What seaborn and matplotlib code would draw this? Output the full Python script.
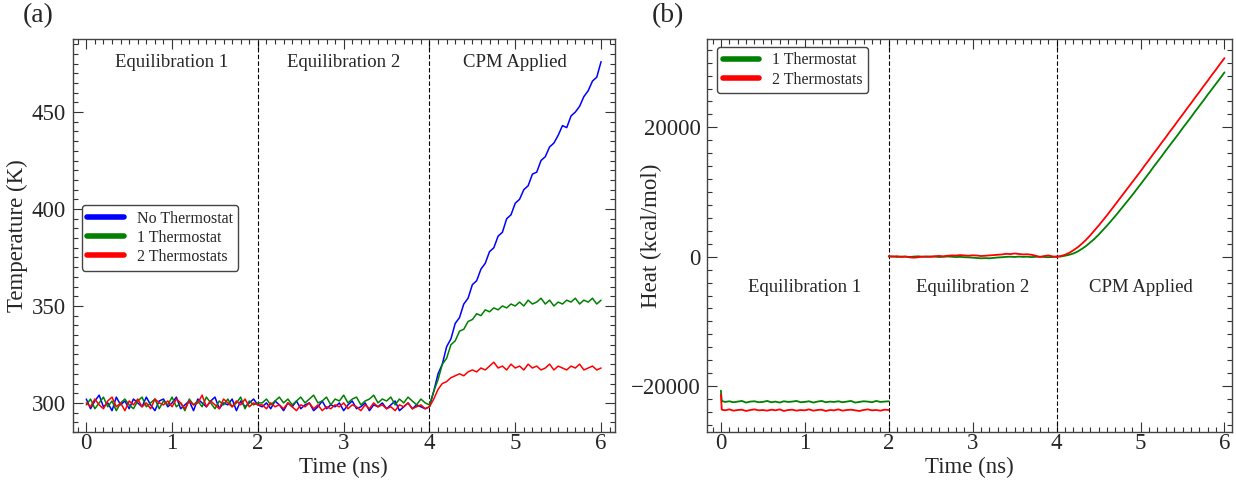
import numpy as np
import pandas as pd
import matplotlib
matplotlib.use("Agg")
import matplotlib.pyplot as plt
import seaborn as sns
from matplotlib.ticker import MultipleLocator

# ---------------- data ----------------
phase_labels = ["Equilibration 1", "Equilibration 2", "CPM Applied"]
series_a = ["No Thermostat", "1 Thermostat", "2 Thermostats"]
series_b = ["1 Thermostat", "2 Thermostats"]

# panel (a): temperature (K), sampled every 0.05 ns from 0 to 6 ns
time_a = np.linspace(0, 6, 121)
temp_none = (
    [302, 297, 301, 304, 298, 300, 296, 303, 299, 301, 297, 302, 300, 298, 303, 299, 296, 301, 302, 298,
     300, 303, 297, 299, 301, 296, 302, 300, 298, 301, 303, 297, 300, 299, 302, 296, 301, 298, 300, 302, 299]
    + [298, 300, 297, 301, 299, 296, 300, 298, 301, 297, 299, 300, 296, 298, 301, 297, 299, 298, 300, 296,
       299, 301, 297, 298, 300, 296, 299, 298, 300, 297, 299, 301, 296, 298, 300, 297, 299, 298, 297, 298]
    + [306, 315, 320, 329, 333, 341, 344, 351, 354, 361, 363, 369, 372, 378, 380, 386, 388, 395, 397, 403,
       405, 410, 412, 418, 419, 425, 427, 432, 434, 438, 443, 442, 448, 450, 453, 458, 461, 466, 468, 476]
)
temp_one = (
    [299, 302, 297, 300, 303, 298, 301, 296, 300, 302, 299, 297, 301, 303, 298, 300, 302, 297, 301, 299,
     303, 298, 300, 296, 302, 299, 301, 298, 303, 300, 297, 301, 299, 302, 298, 300, 303, 297, 301, 299, 300]
    + [300, 302, 299, 301, 303, 300, 302, 299, 301, 303, 300, 302, 304, 300, 301, 303, 299, 302, 301, 304,
       300, 302, 303, 299, 301, 302, 304, 300, 302, 301, 303, 299, 302, 300, 303, 301, 299, 302, 300, 299]
    + [306, 312, 320, 323, 330, 332, 337, 338, 342, 343, 346, 345, 348, 347, 349, 348, 350, 349, 351, 350,
       352, 350, 353, 351, 352, 354, 351, 353, 350, 352, 351, 353, 352, 354, 351, 353, 352, 354, 351, 353]
)
temp_two = (
    [300, 298, 302, 299, 297, 301, 303, 298, 300, 296, 301, 299, 302, 298, 300, 297, 302, 300, 299, 301,
     298, 302, 300, 297, 301, 299, 300, 304, 298, 301, 299, 297, 302, 300, 298, 301, 299, 302, 298, 300, 299]
    + [299, 297, 300, 298, 299, 297, 300, 298, 296, 299, 298, 300, 297, 299, 296, 298, 297, 299, 298, 300,
       297, 299, 298, 296, 299, 297, 300, 298, 299, 297, 298, 296, 299, 298, 300, 297, 298, 299, 297, 298]
    + [302, 307, 310, 311, 313, 314, 315, 314, 316, 317, 316, 318, 317, 319, 321, 318, 319, 317, 320, 318,
       319, 317, 320, 318, 319, 317, 318, 320, 317, 319, 318, 317, 319, 318, 320, 317, 318, 319, 317, 318]
)

# panel (b): heat (kcal/mol), three separate segments
time_b1 = np.concatenate([[0.0, 0.01], np.linspace(0.05, 2.0, 40)])
time_b2 = np.linspace(2.0, 4.0, 41)
time_b3 = np.linspace(4.0, 6.0, 41)

heat_one_eq1 = [-20700, -22300, -22450, -22350, -22500, -22400, -22300, -22550, -22400, -22350, -22500,
                -22450, -22300, -22500, -22400, -22550, -22350, -22450, -22400, -22300, -22500,
                -22450, -22350, -22550, -22400, -22300, -22500, -22400, -22450, -22350, -22500,
                -22400, -22300, -22550, -22450, -22350, -22400, -22500, -22300, -22450, -22400, -22350]
heat_two_eq1 = [-21300, -23650, -23750, -23600, -23800, -23700, -23650, -23850, -23700, -23600, -23750,
                -23700, -23800, -23650, -23750, -23600, -23850, -23700, -23650, -23800, -23700,
                -23750, -23600, -23800, -23700, -23650, -23850, -23700, -23750, -23600, -23800,
                -23700, -23650, -23750, -23850, -23700, -23600, -23750, -23700, -23800, -23650, -23700]
heat_one_eq2 = [0, 50, -50, 30, 0, -40, 20, 60, 0, -30, 40, 0, -50, -20, 30, 0, -60, -20, -80, -100,
                -150, -200, -250, -220, -250, -180, -120, -80, -20, 0, -40, 20, -30, 0, -60, -20, 10,
                -40, -80, -50, 0]
heat_two_eq2 = [100, 0, 80, -50, 30, -100, -150, -80, 0, 50, -30, 80, 120, 60, 150, 200, 180, 250, 200,
                150, 220, 180, 100, 150, 200, 250, 300, 350, 450, 400, 500, 420, 350, 380, 300, 150, -50,
                100, 200, 50, 0]
heat_one_cpm = [0, 30, 150, 300, 500, 800, 1200, 1650, 2200, 2750, 3400, 4100, 4800, 5550, 6300, 7100,
                7900, 8700, 9500, 10350, 11200, 12050, 12900, 13800, 14650, 15500, 16400, 17250, 18100,
                18950, 19850, 20700, 21550, 22450, 23300, 24150, 25050, 25900, 26750, 27600, 28500]
heat_two_cpm = [0, 100, 300, 600, 1000, 1450, 2000, 2600, 3300, 4050, 4800, 5600, 6400, 7250, 8100, 8950,
                9800, 10650, 11500, 12350, 13200, 14100, 14950, 15850, 16700, 17600, 18450, 19350, 20200,
                21100, 21950, 22850, 23700, 24600, 25450, 26350, 27200, 28100, 28950, 29850, 30700]

colors = {"No Thermostat": "#0000ff", "1 Thermostat": "#008000", "2 Thermostats": "#ff0000"}

# ---------------- frames ----------------
df_a = pd.concat([
    pd.DataFrame({"Time": time_a, "Value": vals, "Series": name})
    for name, vals in zip(series_a, [temp_none, temp_one, temp_two])
], ignore_index=True)

seg_frames = []
for name, segs in zip(series_b, [[heat_one_eq1, heat_one_eq2, heat_one_cpm],
                                 [heat_two_eq1, heat_two_eq2, heat_two_cpm]]):
    for k, (tt, vv) in enumerate(zip([time_b1, time_b2, time_b3], segs)):
        seg_frames.append(pd.DataFrame({"Time": tt, "Value": vv, "Series": name, "Seg": k}))
df_b = pd.concat(seg_frames, ignore_index=True)

# ---------------- style ----------------
sns.set_style("ticks")
plt.rcParams["font.family"] = ["Liberation Serif", "DejaVu Serif"]
plt.rcParams["axes.unicode_minus"] = True

fig = plt.figure(figsize=(12.36, 4.8), dpi=100)
axA = fig.add_axes([0.0587, 0.100, 0.4387, 0.818])
axB = fig.add_axes([0.5724, 0.100, 0.4244, 0.818])

sns.lineplot(data=df_a, x="Time", y="Value", hue="Series", hue_order=series_a, palette=colors,
             estimator=None, sort=False, lw=1.1, ax=axA)
sns.lineplot(data=df_b, x="Time", y="Value", hue="Series", hue_order=series_b, palette=colors,
             units="Seg", estimator=None, sort=False, lw=1.3, ax=axB)

fs_tick = 16.5
fs_label = 16.5
for ax in (axA, axB):
    ax.set_xlim(-0.16, 6.16)
    ax.xaxis.set_major_locator(MultipleLocator(1))
    ax.xaxis.set_minor_locator(MultipleLocator(0.1))
    ax.tick_params(which="both", direction="in", top=True, right=True, labelsize=fs_tick, width=0.8,
                   color="#333333")
    ax.tick_params(which="major", length=7)
    ax.tick_params(axis="y", which="major", pad=5)
    ax.tick_params(axis="x", which="major", pad=1)
    ax.tick_params(which="minor", length=3.5)
    ax.set_xlabel("Time (ns)", fontsize=fs_label, labelpad=2)
    for s in ax.spines.values():
        s.set_linewidth(1.0)
        s.set_color("#444444")
    for xv in (2, 4):
        ax.axvline(xv, color="black", lw=0.8, ls=(0, (4, 2)), zorder=1)

axB.set_xlim(-0.16, 6.09)

axA.set_ylim(285, 487.5)
axA.yaxis.set_major_locator(MultipleLocator(50))
axA.yaxis.set_minor_locator(MultipleLocator(5))
axA.set_ylabel("Temperature (K)", fontsize=fs_label)
axA.yaxis.set_label_coords(-0.082, 0.5)

axB.set_ylim(-27100, 33600)
axB.yaxis.set_major_locator(MultipleLocator(20000))
axB.yaxis.set_minor_locator(MultipleLocator(2000))
axB.set_ylabel("Heat (kcal/mol)", fontsize=fs_label)
axB.yaxis.set_label_coords(-0.087, 0.5)

fs_ann = 13.5
for xc, lab in zip([1, 3, 5], phase_labels):
    axA.text(xc, 475.5, lab, ha="center", va="center", fontsize=fs_ann)
    axB.text(xc, -4700, lab, ha="center", va="center", fontsize=fs_ann)

leg_kw = dict(loc="upper left", fontsize=11.5, frameon=True, fancybox=True, edgecolor="#444444",
              framealpha=1, handlelength=2.3, borderpad=0.35, labelspacing=0.2, handletextpad=0.8,
              borderaxespad=0)
legA = axA.legend(bbox_to_anchor=(0.017, 0.578), **leg_kw)
legB = axB.legend(bbox_to_anchor=(0.018, 0.981), **leg_kw)
for leg in (legA, legB):
    leg.set_title(None)
    leg.get_frame().set_linewidth(1.0)
    for h in leg.get_lines():
        h.set_linewidth(4)

fig.text(38 / 1236, 1 - 16 / 480, "(a)", ha="center", va="center", fontsize=20)
fig.text(668 / 1236, 1 - 16 / 480, "(b)", ha="center", va="center", fontsize=20)

fig.savefig("out.png", dpi=100)
